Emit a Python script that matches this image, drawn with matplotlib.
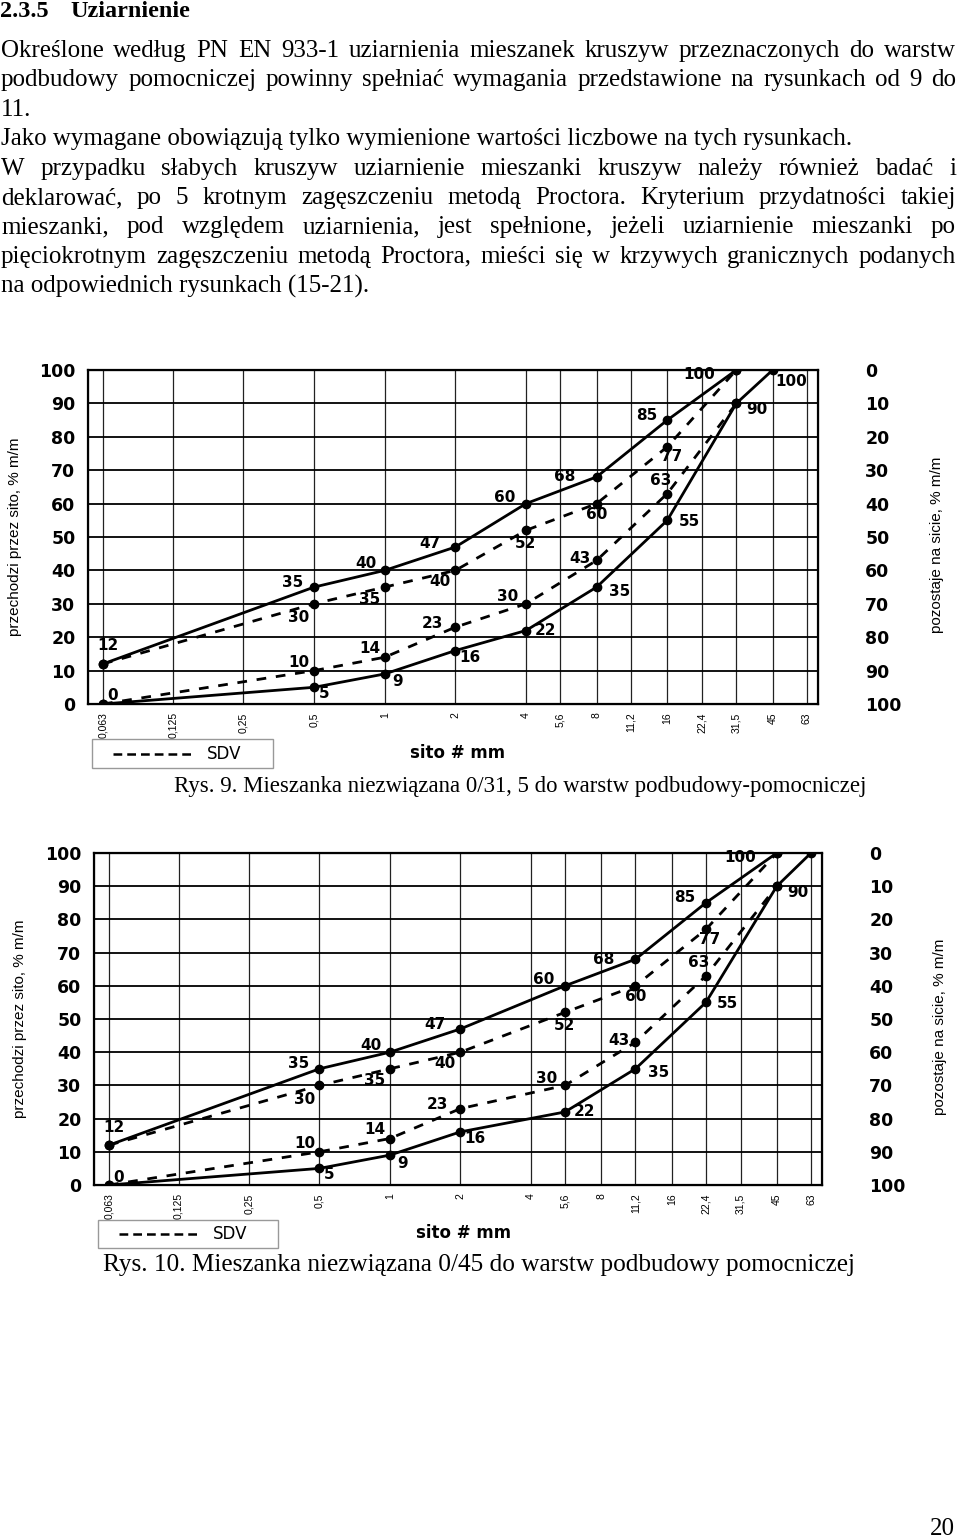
import matplotlib
matplotlib.use('Agg')
import matplotlib.pyplot as plt
from matplotlib.lines import Line2D
from matplotlib.patches import Rectangle
from matplotlib.ticker import NullLocator

W, H = 960, 1540
fig = plt.figure(figsize=(W / 100, H / 100), dpi=100)
fig.patch.set_facecolor('white')

SERIF = ['Liberation Serif', 'DejaVu Serif']
NARROW = ['Liberation Sans', 'DejaVu Sans']
WIDE = ['DejaVu Sans']


def fx(px):
    return px / W


def fy(py):
    return 1 - py / H


# --- data -------------------------------------------------------------
sieves = [0.063, 0.125, 0.25, 0.5, 1, 2, 4, 5.6, 8, 11.2, 16, 22.4, 31.5, 45, 63]
sieve_labels = ['0,063', '0,125', '0,25', '0,5', '1', '2', '4', '5,6', '8',
                '11,2', '16', '22,4', '31,5', '45', '63']
pct_ticks = [0, 10, 20, 30, 40, 50, 60, 70, 80, 90, 100]

# Rys. 9  (0/31,5)
r9_upper_x = [0.063, 0.5, 1, 2, 4, 8, 16, 31.5]
r9_upper_y = [12, 35, 40, 47, 60, 68, 85, 100]
r9_lower_x = [0.063, 0.5, 1, 2, 4, 8, 16, 31.5, 45]
r9_lower_y = [0, 5, 9, 16, 22, 35, 55, 90, 100]
r9_sdv_up_x = [0.063, 0.5, 1, 2, 4, 8, 16, 31.5]
r9_sdv_up_y = [12, 30, 35, 40, 52, 60, 77, 100]
r9_sdv_lo_x = [0.063, 0.5, 1, 2, 4, 8, 16, 31.5]
r9_sdv_lo_y = [0, 10, 14, 23, 30, 43, 63, 90]

# Rys. 10  (0/45)
r10_upper_x = [0.063, 0.5, 1, 2, 5.6, 11.2, 22.4, 45]
r10_upper_y = [12, 35, 40, 47, 60, 68, 85, 100]
r10_lower_x = [0.063, 0.5, 1, 2, 5.6, 11.2, 22.4, 45, 63]
r10_lower_y = [0, 5, 9, 16, 22, 35, 55, 90, 100]
r10_sdv_up_x = [0.063, 0.5, 1, 2, 5.6, 11.2, 22.4, 45]
r10_sdv_up_y = [12, 30, 35, 40, 52, 60, 77, 100]
r10_sdv_lo_x = [0.063, 0.5, 1, 2, 5.6, 11.2, 22.4, 45]
r10_sdv_lo_y = [0, 10, 14, 23, 30, 43, 63, 90]

# label offsets in pixels (None = no label)
off_upper = [(5, 18), (-21, 5), (-19, 7), (-25, 4), (-21, 6), (-32, 0), (-21, 5), (-37, -5)]
off_lower9 = [(10, 8), (10, -6), (13, -8), (15, -7), (19, 0), (23, -4), (22, -1), (21, -6), (19, -12)]
off_lower10 = off_lower9[:-1] + [None]
off_sdv_up = [None, (-15, -14), (-15, -12), (-15, -11), (-1, -13), (0, -11), (4, -10), None]
off_sdv_lo = [None, (-15, 8), (-15, 9), (-23, 4), (-18, 7), (-17, 2), (-7, 13), None]

body = [
    ("Określone według PN EN 933-1 uziarnienia mieszanek kruszyw przeznaczonych do warstw", True),
    ("podbudowy pomocniczej powinny spełniać wymagania przedstawione na rysunkach od 9 do", True),
    ("11.", False),
    ("Jako wymagane obowiązują tylko wymienione wartości liczbowe na tych rysunkach.", False),
    ("W przypadku słabych kruszyw uziarnienie mieszanki kruszyw należy również badać i", True),
    ("deklarować, po 5 krotnym zagęszczeniu metodą Proctora. Kryterium przydatności takiej", True),
    ("mieszanki, pod względem uziarnienia, jest spełnione, jeżeli uziarnienie mieszanki po", True),
    ("pięciokrotnym zagęszczeniu metodą Proctora, mieści się w krzywych granicznych podanych", True),
    ("na odpowiednich rysunkach (15-21).", False),
]

renderer = fig.canvas.get_renderer()
BODY_SIZE = 18


def text_line(y, s, justify, x0=1, x1=956):
    base = fy(y + 7)
    if not justify:
        fig.text(fx(x0), base, s, family=SERIF, size=BODY_SIZE, va='baseline')
        return
    words = s.split(' ')
    items = [fig.text(0, base, w, family=SERIF, size=BODY_SIZE, va='baseline') for w in words]
    widths = [t.get_window_extent(renderer).width for t in items]
    gap = (x1 - x0 - sum(widths)) / (len(words) - 1)
    x = x0
    for t, w in zip(items, widths):
        t.set_x(fx(x))
        x += w + gap


fig.text(fx(0), fy(17), "2.3.5", family=SERIF, weight='bold', size=17.5, va='baseline')
fig.text(fx(70), fy(17), "Uziarnienie", family=SERIF, weight='bold', size=17.5, va='baseline')
for i, (s, j) in enumerate(body):
    text_line(50 + 29.4 * i, s, j)


def draw_chart(left, right, top, bottom, series, caption, cap_x, cap_y, cap_size,
               leg_box, ylab_x, ylab_r_x):
    ax = fig.add_axes([fx(left), fy(bottom), fx(right) - fx(left), (bottom - top) / H])
    ax.set_xscale('log')
    ax.set_xlim(0.0544, 70.2)
    ax.set_ylim(0, 100)
    ax.xaxis.set_minor_locator(NullLocator())
    ax.set_xticks(sieves)
    ax.set_xticklabels(sieve_labels, rotation=90, family=NARROW, size=7.5)
    ax.set_yticks(pct_ticks)
    ax.set_yticklabels([str(v) for v in pct_ticks], family=WIDE, weight='bold', size=12.5)
    ax.tick_params(length=0)
    ax.tick_params(axis='x', pad=6)
    ax.tick_params(axis='y', pad=9)
    ax.xaxis.grid(True, color='#222222', lw=0.9)
    ax.yaxis.grid(True, color='black', lw=1.3)
    ax.set_axisbelow(True)
    for sp in ax.spines.values():
        sp.set_linewidth(1.6)

    ax2 = ax.twinx()
    ax2.set_ylim(100, 0)
    ax2.set_yticks(pct_ticks)
    ax2.set_yticklabels([str(v) for v in pct_ticks], family=WIDE, weight='bold', size=12.5)
    ax2.tick_params(length=0, pad=34)

    for xs, ys, offs, dashed in series:
        if dashed:
            ax.plot(xs, ys, color='black', lw=2.0, ls=(0, (3.5, 3.5)),
                    marker='o', ms=6, zorder=3)
        else:
            ax.plot(xs, ys, color='black', lw=2.0, marker='o', ms=6, zorder=4)
        for x, y, off in zip(xs, ys, offs):
            if off is None:
                continue
            ax.annotate(str(y), (x, y), xytext=off, textcoords='offset pixels',
                        ha='center', va='center', family=WIDE, weight='bold',
                        size=11, zorder=5)

    cy = (top + bottom) / 2
    fig.text(fx(ylab_x), fy(cy), "przechodzi przez sito, % m/m", rotation=90,
             family=NARROW, size=11, ha='center', va='center')
    fig.text(fx(ylab_r_x), fy(cy + 8), "pozostaje na sicie, % m/m", rotation=90,
             family=NARROW, size=11, ha='center', va='center')

    bx0, by0, bx1, by1 = leg_box
    fig.patches.append(Rectangle((fx(bx0), fy(by1)), fx(bx1) - fx(bx0), (by1 - by0) / H,
                                 transform=fig.transFigure, fill=False,
                                 edgecolor='#999999', lw=1.0))
    ly = (by0 + by1) / 2
    fig.lines.append(Line2D([fx(bx0 + 21), fx(bx0 + 103)], [fy(ly), fy(ly)],
                            transform=fig.transFigure, color='black', lw=1.8,
                            ls=(0, (3.5, 2))))
    fig.text(fx(bx0 + 115), fy(ly), "SDV", family=WIDE, size=12, va='center')
    fig.text(fx(bx0 + 318), fy(ly - 1), "sito # mm", family=WIDE, weight='bold',
             size=12, va='center')
    fig.text(fx(cap_x), fy(cap_y + 7), caption, family=SERIF, size=cap_size, va='baseline')


draw_chart(88, 818, 370, 704,
           [(r9_upper_x, r9_upper_y, off_upper, False),
            (r9_lower_x, r9_lower_y, off_lower9, False),
            (r9_sdv_up_x, r9_sdv_up_y, off_sdv_up, True),
            (r9_sdv_lo_x, r9_sdv_lo_y, off_sdv_lo, True)],
           "Rys. 9. Mieszanka niezwiązana 0/31, 5 do warstw podbudowy-pomocniczej",
           174, 785, 16.4, (92, 739, 273, 768), 15, 937)

draw_chart(94, 822, 853, 1185,
           [(r10_upper_x, r10_upper_y, off_upper, False),
            (r10_lower_x, r10_lower_y, off_lower10, False),
            (r10_sdv_up_x, r10_sdv_up_y, off_sdv_up, True),
            (r10_sdv_lo_x, r10_sdv_lo_y, off_sdv_lo, True)],
           "Rys. 10. Mieszanka niezwiązana 0/45 do warstw podbudowy pomocniczej",
           103, 1264, 18.2, (98, 1220, 278, 1248), 20, 940)

fig.text(fx(930), fy(1535), "20", family=SERIF, size=BODY_SIZE, va='baseline')

fig.savefig('out.png', dpi=100)
